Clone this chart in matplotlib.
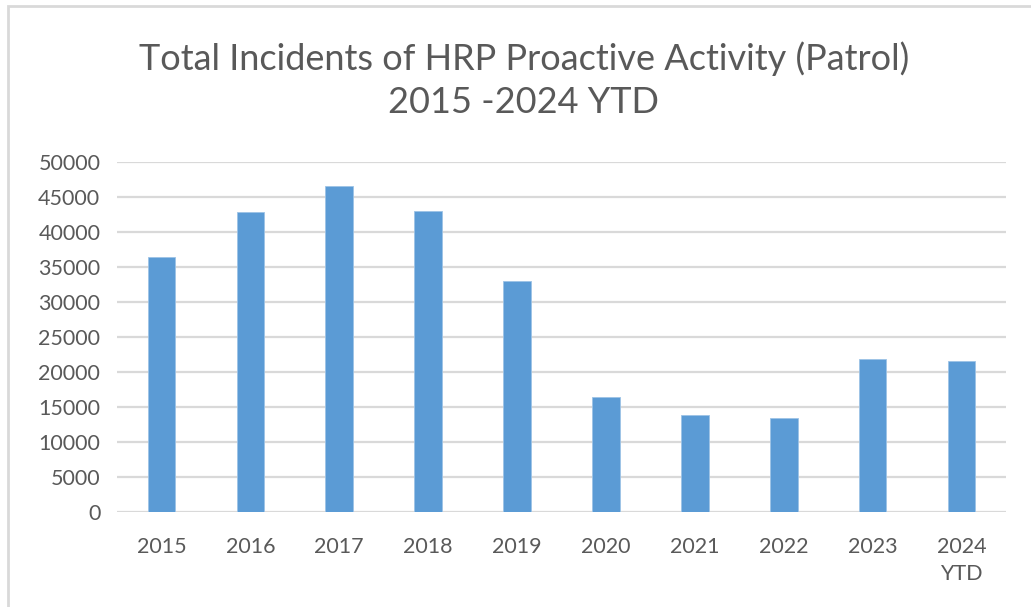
import matplotlib
matplotlib.use("Agg")
import matplotlib.pyplot as plt
from matplotlib.patches import Rectangle

categories = ["2015", "2016", "2017", "2018", "2019", "2020", "2021", "2022", "2023", "2024\nYTD"]
incidents = [36500, 42800, 46600, 43000, 33000, 16500, 13900, 13500, 21800, 21600]
yticks = list(range(0, 50001, 5000))
title = "Total Incidents of HRP Proactive Activity (Patrol)\n2015 -2024 YTD"

W, H = 1031, 607
fig = plt.figure(figsize=(W / 100, H / 100), dpi=100)
fig.patch.set_facecolor("white")

# outer chart border (top and left visible only)
fig.patches.append(Rectangle((8 / W, -0.2), 1.2, 1.2 - 6 / H, transform=fig.transFigure,
                             fill=False, edgecolor="#d9d9d9", linewidth=2))

left, right = 117 / W, 1006 / W
bottom, top = 1 - 512 / H, 1 - 162 / H
ax = fig.add_axes([left, bottom, right - left, top - bottom])

x = list(range(len(categories)))
ax.bar(x, incidents, width=0.31, color="#5b9bd5", edgecolor="#9dc3e6", linewidth=0.6, zorder=3)

ax.set_xlim(-0.5, len(categories) - 0.5)
ax.set_ylim(0, 50000)
ax.set_yticks(yticks)
ax.set_yticklabels([str(v) for v in yticks])
ax.set_xticks(x)
ax.set_xticklabels(categories)

for s in ax.spines.values():
    s.set_visible(False)
ax.yaxis.grid(True, color="#d9d9d9", linewidth=1.6, zorder=0)
ax.tick_params(axis="both", length=0, labelsize=15.5, labelcolor="#595959")
ax.tick_params(axis="y", pad=12)
ax.tick_params(axis="x", pad=18)
for lab in ax.get_xticklabels() + ax.get_yticklabels():
    lab.set_fontfamily(["Lato", "DejaVu Sans"])
for lab in ax.get_xticklabels():
    lab.set_linespacing(1.45)
    lab.set_verticalalignment("top")

fig.text(524 / W, 1 - 80 / H, title, ha="center", va="center", fontsize=26,
         color="#595959", family=["Lato", "DejaVu Sans"], linespacing=1.38)

fig.savefig("out.png", dpi=100, facecolor="white")
